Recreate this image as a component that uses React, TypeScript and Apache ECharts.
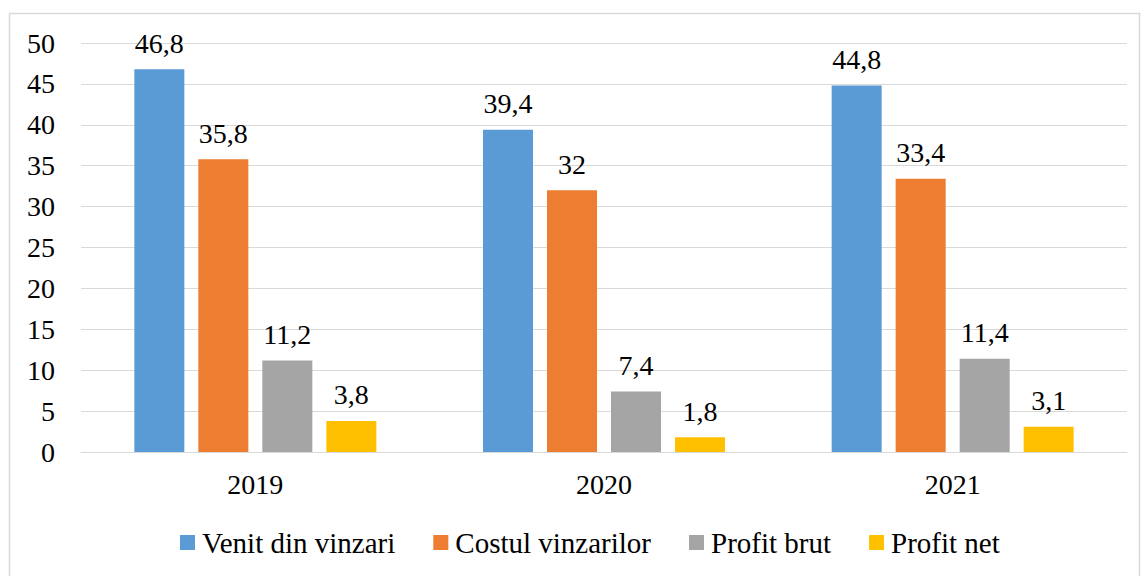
import React, { useEffect, useRef } from "react";
import * as echarts from "echarts";

const years = ["2019", "2020", "2021"];
const venit = [46.8, 39.4, 44.8];
const costul = [35.8, 32, 33.4];
const profitBrut = [11.2, 7.4, 11.4];
const profitNet = [3.8, 1.8, 3.1];
const seriesNames = ["Venit din vinzari", "Costul vinzarilor", "Profit brut", "Profit net"];
const colors = ["#5B9BD5", "#ED7D31", "#A5A5A5", "#FFC000"];

const FONT = "Liberation Serif";

export default function App() {
  const ref = useRef<HTMLDivElement>(null);
  useEffect(() => {
    document.body.style.margin = "0";
    const chart = echarts.init(ref.current!, null, { renderer: "svg" });
    const data = [venit, costul, profitBrut, profitNet];
    chart.setOption({
      animation: false,
      textStyle: { fontFamily: FONT },
      graphic: [
        {
          type: "rect",
          shape: { x: 9.5, y: 13.5, width: 1130, height: 570 },
          style: { fill: "none", stroke: "#d9d9d9", lineWidth: 1.5 },
          silent: true,
        },
      ],
      grid: { left: 81, right: 15, top: 43, bottom: 124 },
      legend: {
        bottom: 14,
        left: 175,
        itemWidth: 15,
        itemHeight: 15,
        itemGap: 38,
        icon: "rect",
        textStyle: { fontFamily: FONT, fontSize: 29, color: "#000", padding: [0, 0, 0, 2] },
        data: seriesNames,
      },
      xAxis: {
        type: "category",
        data: years,
        axisLine: { show: true, lineStyle: { color: "#d9d9d9" } },
        axisTick: { show: false },
        axisLabel: { fontFamily: FONT, fontSize: 28, color: "#000", margin: 18 },
      },
      yAxis: {
        type: "value",
        min: 0,
        max: 50,
        interval: 5,
        axisLine: { show: false },
        axisTick: { show: false },
        splitLine: { lineStyle: { color: "#d9d9d9", width: 1 } },
        axisLabel: { fontFamily: FONT, fontSize: 28, color: "#000", margin: 26 },
      },
      series: seriesNames.map((name, i) => ({
        name,
        type: "bar",
        data: data[i],
        barWidth: 50,
        barGap: "28%",
        itemStyle: { color: colors[i] },
        label: {
          show: true,
          position: "top",
          distance: 12,
          fontFamily: FONT,
          fontSize: 28,
          color: "#000",
          formatter: (p: any) => String(p.value).replace(".", ","),
        },
      })),
    });
    return () => chart.dispose();
  }, []);
  return <div ref={ref} style={{ width: 1142, height: 576 }} />;
}
